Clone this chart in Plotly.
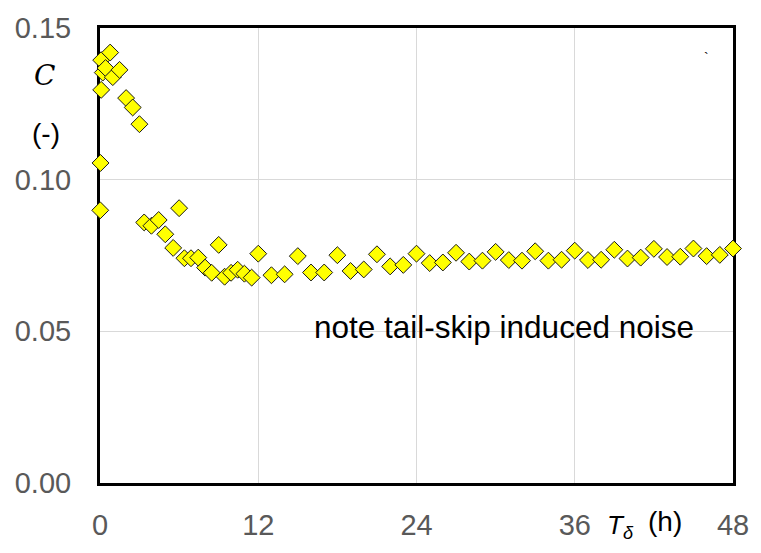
import plotly.graph_objects as go

# Time T_delta (h) and coefficient C (-)
t_hours = [0.02, 0.04, 0.09, 0.09, 0.21, 0.42, 0.77, 0.97, 1.48, 1.98, 2.48, 2.99,
           3.35, 3.9, 4.45, 4.95, 5.55, 6.0, 6.4, 6.9, 7.45, 7.97, 8.47, 9.0,
           9.45, 9.94, 10.44, 10.95, 11.5, 12.0,
           13, 14, 15, 16, 17, 18, 19, 20, 21, 22, 23, 24, 25, 26, 27, 28, 29, 30,
           31, 32, 33, 34, 35, 36, 37, 38, 39, 40, 41, 42, 43, 44, 45, 46, 47, 48]
c_values = [0.0899, 0.1055, 0.1296, 0.1394, 0.1353, 0.1368, 0.1419, 0.1338, 0.1362, 0.1269, 0.1238, 0.1183,
            0.0859, 0.0848, 0.0867, 0.0820, 0.0775, 0.0906, 0.0741, 0.0741, 0.0743, 0.0710, 0.0693, 0.0785,
            0.0680, 0.0693, 0.0703, 0.0690, 0.0677, 0.0756,
            0.0685, 0.0688, 0.0748, 0.0694, 0.0694, 0.0751, 0.0699, 0.0704, 0.0754, 0.0714, 0.0719, 0.0756,
            0.0725, 0.0727, 0.0759, 0.0730, 0.0733, 0.0762, 0.0735, 0.0733, 0.0764, 0.0733, 0.0736, 0.0766,
            0.0735, 0.0736, 0.0769, 0.0740, 0.0743, 0.0772, 0.0745, 0.0746, 0.0773, 0.0748, 0.0752, 0.0773]

x_ticks = [0, 12, 24, 36, 48]
y_ticks = [0.00, 0.05, 0.10, 0.15]
y_tick_labels = ["0.00", "0.05", "0.10", "0.15"]

FONT = "Liberation Sans, Arial, sans-serif"
W, H = 761, 553
ML, MR, MT, MB = 100, 27, 17, 61
PW, PH = W - ML - MR, H - MT - MB


def px(xp):
    return (xp - ML) / PW


def py(yp):
    return (H - MB - yp) / PH


fig = go.Figure()
fig.add_trace(go.Scatter(
    x=t_hours, y=c_values, mode="markers",
    marker=dict(symbol="diamond", size=13, color="#FFFF00",
                line=dict(color="#1a1a1a", width=1)),
    cliponaxis=False, showlegend=False,
))

fig.update_layout(
    width=W, height=H,
    margin=dict(l=ML, r=MR, t=MT, b=MB),
    paper_bgcolor="white", plot_bgcolor="white",
    font=dict(family=FONT, size=28, color="#595959"),
    xaxis=dict(range=[0, 48], tickvals=x_ticks, ticks="", showgrid=True,
               gridcolor="#D9D9D9", gridwidth=1, showline=True, linecolor="black",
               linewidth=3, mirror=True, zeroline=False, ticklabelstandoff=14,
               layer="below traces", tickfont=dict(size=29, color="#595959")),
    yaxis=dict(range=[0, 0.15], tickvals=y_ticks, ticktext=y_tick_labels, ticks="",
               showgrid=True, gridcolor="#D9D9D9", gridwidth=1, showline=True,
               linecolor="black", linewidth=3, mirror=True, zeroline=False,
               layer="below traces", ticklabelstandoff=20,
               tickfont=dict(size=29, color="#595959")),
)

annotations = [
    dict(text="<i>C</i>", x=px(44), y=py(67), font=dict(family="DejaVu Serif", size=28, color="black"),
         xanchor="center", yanchor="middle"),
    dict(text="(-)", x=px(46), y=py(127), font=dict(family=FONT, size=28, color="black"),
         xanchor="center", yanchor="middle"),
    dict(text="<i>T</i><sub><i>δ</i></sub>", x=px(606), y=py(537),
         font=dict(family=FONT, size=26, color="black"), xanchor="left", yanchor="middle"),
    dict(text="(h)", x=px(666), y=py(532), font=dict(family=FONT, size=28, color="black"),
         xanchor="center", yanchor="middle"),
    dict(text="note tail-skip induced noise", x=px(312), y=py(329),
         font=dict(family=FONT, size=31.5, color="black"), xanchor="left", yanchor="middle"),
    dict(text="`", x=px(707), y=py(48), font=dict(family=FONT, size=14, color="black"),
         xanchor="center", yanchor="middle"),
]
for a in annotations:
    a.update(xref="paper", yref="paper", showarrow=False)
    fig.add_annotation(**a)

fig.write_html("out.html")
